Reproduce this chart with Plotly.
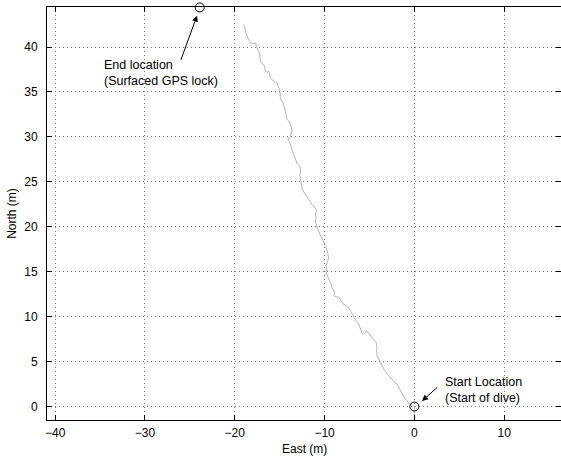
import plotly.graph_objects as go

# Dive track (East, North) in metres
east = [0.05, 0.03, 0.0, -0.12, -0.26, -0.45, -0.6, -0.81, -1.05, -1.2, -1.37, -1.55, -1.7, -1.93,
        -2.1, -2.34, -2.6, -2.75, -3.04, -3.3, -3.5, -3.65, -3.79, -3.95, -4.15, -4.2, -4.18,
        -4.26, -4.4, -4.53, -4.75, -4.9, -5.09, -5.35, -5.45, -5.57, -5.7, -5.82, -5.95, -6.05,
        -6.20, -6.45, -6.6, -6.76, -6.95, -7.1, -7.31, -7.55, -7.7, -7.87, -8.1, -8.25, -8.43,
        -8.65, -8.99, -8.85, -9.0, -9.17, -9.3, -9.5, -9.6, -9.72, -9.8, -9.75, -9.83, -9.7,
        -9.54, -9.6, -9.72, -9.9, -10.0, -10.17, -10.35, -10.5, -10.66, -10.8, -10.9, -11.02,
        -10.95, -11.02, -10.86, -11.0, -11.21, -11.4, -11.6, -11.77, -12.0, -12.15, -12.33,
        -12.5, -12.6, -12.69, -12.75, -12.65, -12.77, -13.03, -13.15, -13.33, -13.4, -13.51,
        -13.65, -13.75, -13.89, -14.07, -13.9, -13.81, -13.7, -13.62, -13.75, -13.89, -14.05,
        -14.25, -14.3, -14.37, -14.5, -14.62, -14.8, -14.92, -14.95, -15.00, -15.15, -15.29,
        -15.5, -15.67, -15.85, -16.04, -16.1, -16.22, -16.4, -16.59, -16.65, -16.78, -17.0,
        -17.15, -17.2, -17.23, -17.4, -17.51, -17.6, -17.70, -17.95, -18.26, -18.35, -18.45,
        -18.6, -18.71, -18.75, -18.82, -18.9, -19.01]
north = [-1.6, -0.6, 0.0, 0.05, 0.06, 0.32, 0.3, 0.61, 0.95, 1.1, 1.40, 1.8, 2.05, 2.51,
         2.6, 2.85, 3.1, 3.35, 3.63, 4.0, 4.4, 4.6, 4.89, 5.2, 5.64, 6.1, 6.6,
         7.13, 7.3, 7.51, 7.65, 7.9, 8.07, 8.44, 8.2, 8.10, 8.25, 8.13, 8.5, 8.9,
         9.18, 9.45, 9.7, 9.92, 10.3, 10.6, 11.04, 11.1, 11.3, 11.34, 11.7, 11.95, 12.16,
         12.2, 12.35, 12.68, 12.9, 13.27, 13.7, 14.1, 14.3, 14.58, 15.0, 15.3, 15.70, 16.0,
         16.45, 16.8, 17.37, 17.8, 18.1, 18.49, 18.8, 19.1, 19.42, 19.8, 20.2, 20.54,
         21.0, 21.51, 21.84, 22.0, 22.21, 22.5, 22.8, 23.04, 23.4, 23.6, 23.89,
         24.3, 24.8, 25.20, 25.8, 26.3, 26.76, 26.98, 27.3, 27.62, 27.9, 28.18,
         28.6, 29.0, 29.30, 29.86, 29.9, 30.03, 30.4, 30.78, 31.2, 31.71, 31.8,
         32.09, 32.6, 33.02, 33.4, 33.77, 34.0, 34.32, 34.8, 35.25, 35.6, 36.00,
         36.05, 36.18, 36.4, 36.56, 36.9, 37.30, 37.2, 37.30, 37.7, 38.04, 38.2,
         38.41, 38.9, 39.35, 39.6, 39.91, 40.2, 40.47, 40.4, 40.47, 40.7, 40.84,
         41.1, 41.40, 41.7, 41.96, 42.2, 42.51]

start_pt = [0.0, 0.0]
end_pt = [-23.9, 44.4]

x_ticks = [-40, -30, -20, -10, 0, 10]
y_ticks = [0, 5, 10, 15, 20, 25, 30, 35, 40]
x_range = [-40.91, 16.33]
y_range = [-1.5, 44.45]

# annotation anchors: text position, arrow head, arrow tail
end_text = [-34.78, 37.14]
end_head = [-24.2, 43.49]
end_tail = [-26.06, 38.4]
start_text = [3.2, 1.87]
start_head = [0.86, 0.61]
start_tail = [2.71, 2.28]

FONT = "Liberation Sans, Arial, Helvetica, sans-serif"

fig = go.Figure()
fig.add_trace(go.Scatter(x=east, y=north, mode="lines",
                         line=dict(color="#b4b4b4", width=1), showlegend=False,
                         hoverinfo="skip"))
fig.add_trace(go.Scatter(x=[start_pt[0], end_pt[0]], y=[start_pt[1], end_pt[1]],
                         mode="markers", cliponaxis=False, hoverinfo="skip",
                         marker=dict(symbol="circle-open", size=9,
                                     line=dict(color="black", width=1), color="black"),
                         showlegend=False))

axis_common = dict(showline=True, linecolor="black", linewidth=1, mirror="ticks",
                   ticks="inside", ticklen=5, tickcolor="black", tickwidth=1,
                   showgrid=True, gridcolor="#777777", griddash="1px,3px", gridwidth=1,
                   zeroline=False, automargin=False,
                   tickfont=dict(family=FONT, size=12, color="black"))

fig.update_xaxes(range=x_range, tickvals=x_ticks, ticklabelstandoff=2, **axis_common)
fig.update_yaxes(range=y_range, tickvals=y_ticks, ticklabelstandoff=6, **axis_common,
                 title=dict(text="North (m)", font=dict(family=FONT, size=12, color="black"),
                            standoff=5))

# x-axis title as a paper-anchored annotation for exact placement
fig.add_annotation(x=0.5, y=0, xref="paper", yref="paper", yanchor="top", yshift=-20,
                   text="East (m)", showarrow=False,
                   font=dict(family=FONT, size=12, color="black"))

ann_font = dict(family=FONT, size=12.5, color="black")
fig.add_annotation(x=end_text[0], y=end_text[1], text="End location<br>(Surfaced GPS lock)",
                   showarrow=False, xanchor="left", yanchor="middle", align="left", font=ann_font)
fig.add_annotation(x=start_text[0], y=start_text[1], text="Start Location<br>(Start of dive)",
                   showarrow=False, xanchor="left", yanchor="middle", align="left", font=ann_font)
for head, tail in [(end_head, end_tail), (start_head, start_tail)]:
    fig.add_annotation(x=head[0], y=head[1], ax=tail[0], ay=tail[1], axref="x", ayref="y",
                       xref="x", yref="y", text="", showarrow=True, arrowhead=2,
                       arrowsize=1.2, arrowwidth=1, arrowcolor="black")

fig.update_layout(width=561, height=456, margin=dict(l=47, r=0, t=7, b=36),
                  paper_bgcolor="white", plot_bgcolor="white", hovermode=False,
                  font=dict(family=FONT, size=12, color="black"))

fig.write_html("out.html", config={"displayModeBar": False},
               post_script="document.body.style.margin='0';document.body.style.padding='0';"
                           "document.body.style.overflow='hidden';")
